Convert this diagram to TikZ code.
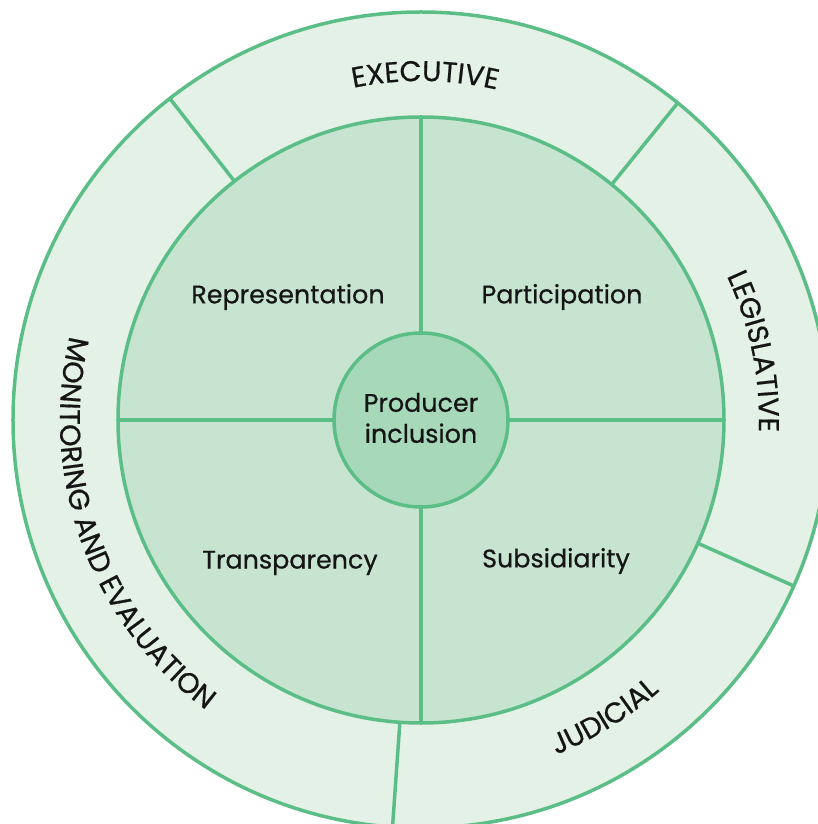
\documentclass[tikz,border=0pt]{standalone}
\usepackage{fontspec}
\setmainfont{Poppins}[FakeBold=0.6]
\usetikzlibrary{decorations.text}

\definecolor{ringline}{HTML}{5CBE87}
\definecolor{outerfill}{HTML}{E3F1E6}
\definecolor{midfill}{HTML}{C7E4D0}
\definecolor{corefill}{HTML}{A7D8B9}
\definecolor{inktext}{HTML}{151515}

\newcommand\ringfont{\fontsize{28.5}{34}\selectfont}

\tikzset{
  ringedge/.style={draw=ringline, line width=3.5pt},
  segtext/.style={font=\fontsize{25.4}{31}\selectfont, text=inktext},
  coretext/.style={segtext, align=center},
}

\begin{document}
\begin{tikzpicture}
  \def\outerR{408pt}
  \def\midR{303pt}
  \def\coreR{87pt}
  \useasboundingbox (-421pt,-404pt) rectangle (397pt,420pt);
  \begin{scope}
    \clip (-421pt,-404pt) rectangle (397pt,420pt);
    % outer ring with its four branches
    \fill[outerfill] (0,0) circle (\outerR);
    \draw[ringedge] (0,0) circle (\outerR);
    \foreach \a in {128,51,-24,-94}
      \draw[ringedge] (\a:\midR) -- (\a:\outerR);
    % middle disc cut in quarters
    \fill[midfill] (0,0) circle (\midR);
    \draw[ringedge] (0,\midR) -- (0,-\midR);
    \draw[ringedge] (-\midR,0) -- (\midR,0);
    \draw[ringedge] (0,0) circle (\midR);
    % core
    \filldraw[ringedge, fill=corefill] (0,0) circle (\coreR);
  \end{scope}

  \node[coretext] (core) at (0,2pt) {Producer\\inclusion};
  \node[segtext] (repr) at (-133pt,123pt) {Representation};
  \node[segtext] (part) at (141pt,123pt) {Participation};
  \node[segtext] (trans) at (-131pt,-143pt) {Transparency};
  \node[segtext] (subs) at (135pt,-141pt) {Subsidiarity};

  % branch names set along the ring
  \path[decorate, decoration={text along path, text align=center,
      text color=inktext, text={|\ringfont|EXECUTIVE}}]
    (129.3:339pt) arc[start angle=129.3, end angle=49.3, radius=339pt];
  \path[decorate, decoration={text along path, text align=center,
      text color=inktext, text={|\ringfont|LEGISLATIVE}}]
    (41.6:338pt) arc[start angle=41.6, end angle=-18.4, radius=338pt];
  \path[decorate, decoration={text along path, text align=center,
      text color=inktext, text={|\ringfont|JUDICIAL}}]
    (-88.3:361pt) arc[start angle=-88.3, end angle=-28.3, radius=361pt];
  \path[decorate, decoration={text along path, text align=center,
      text color=inktext, text={|\ringfont|MONITORING AND EVALUATION}}]
    (140:361pt) arc[start angle=140, end angle=260, radius=361pt];
\end{tikzpicture}
\end{document}
